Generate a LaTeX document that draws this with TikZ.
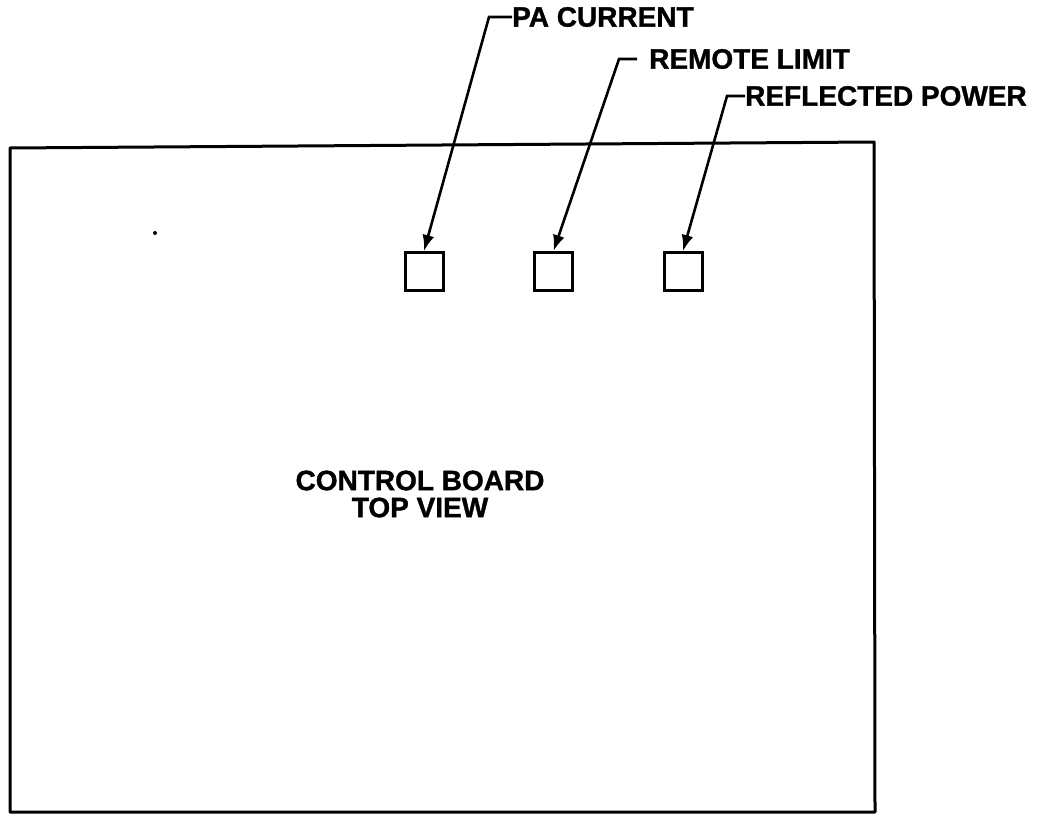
\documentclass[tikz,border=0pt]{standalone}
\usepackage{fontspec}
\setmainfont{Liberation Sans}
\newfontfamily\heavyfont{Liberation Sans Bold}[FakeBold=1.2]
\usetikzlibrary{arrows.meta}
\begin{document}
\begin{tikzpicture}[x=1pt,y=-1pt,
  board/.style={draw=black,line width=3pt,line join=round},
  port/.style={draw=black,line width=3pt,minimum width=38pt,minimum height=38pt,inner sep=0pt},
  lbl/.style={font=\heavyfont\fontsize{28}{28}\selectfont,inner sep=0pt,anchor=west},
  leader/.style={draw=black,line width=2.6pt,-{Latex[length=16pt,width=12pt]}},
  title/.style={font=\heavyfont\fontsize{28}{27}\selectfont,align=center,inner sep=0pt}]
\useasboundingbox (0,0) rectangle (1056,816);
\draw[board] (10,148) -- (874,142) -- (875,812) -- (10,812) -- cycle;
\node[port] (p1) at (424,271.5) {};
\node[port] (p2) at (553.5,271.5) {};
\node[port] (p3) at (683,271.5) {};
\node[lbl] (l1) at (512,17) {PA CURRENT};
\node[lbl] (l2) at (649,59) {REMOTE LIMIT};
\node[lbl] (l3) at (745,96) {REFLECTED POWER};
\coordinate (c1) at (489,17);
\coordinate (c2) at (619,59);
\coordinate (c3) at (727,96);
\draw[leader] (l1.west) -- (c1) -- (p1.north);
\draw[leader] ([xshift=-12pt]l2.west) -- (c2) -- (p2.north);
\draw[leader] (l3.west) -- (c3) -- (p3.north);
\node[title] (t) at (420,494) {CONTROL BOARD\\TOP VIEW};
\fill (155,233) circle (2pt);
\end{tikzpicture}
\end{document}
